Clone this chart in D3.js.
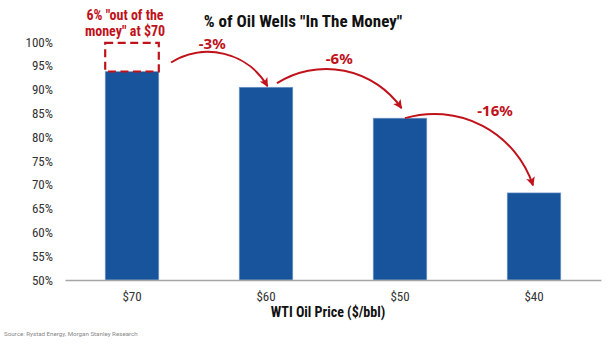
<!DOCTYPE html>
<html>
<head>
<meta charset="utf-8">
<script src="https://cdn.jsdelivr.net/npm/d3@7"></script>
<style>
  html, body { margin: 0; padding: 0; background: #ffffff; }
  svg { display: block; }
  text { font-family: "Roboto Condensed", "Liberation Sans Narrow", "Arial Narrow", Roboto, sans-serif; }
</style>
</head>
<body>
<svg id="chart" width="610" height="346"></svg>
<script>
// ---- data ----
const categories = ["$70", "$60", "$50", "$40"];
const inTheMoney = [93.8, 90.5, 84.0, 68.3];
const outOfMoney = 6;                       // % out of the money at $70
const changeLabels = ["-3%", "-6%", "-16%"];
const yTicks = [50, 55, 60, 65, 70, 75, 80, 85, 90, 95, 100];
const titleText = '% of Oil Wells "In The Money"';
const xTitleText = "WTI Oil Price ($/bbl)";
const noteLines = ['6% "out of the', 'money" at $70'];
const sourceText = "Source: Rystad Energy, Morgan Stanley Research";

// ---- layout / style ----
const RED = "#c0121a";
const BLUE = "#18549b";
const COND = '"Roboto Condensed", "Liberation Sans Narrow", "Arial Narrow", Roboto, sans-serif';
const svg = d3.select("#chart");

const x = d3.scaleBand().domain(categories).range([65, 601]).paddingInner(0.6).paddingOuter(0.3);
const y = d3.scaleLinear().domain([50, 100]).range([280, 42]);

// title
svg.append("text").attr("x", 303).attr("y", 27).attr("text-anchor", "middle")
  .attr("font-size", 17).attr("font-weight", "bold").attr("fill", "#111").text(titleText);

// y axis labels
const yAxis = d3.axisLeft(y).tickValues(yTicks).tickFormat(d => d + "%").tickSize(0).tickPadding(0);
const gy = svg.append("g").attr("transform", "translate(53,0)").call(yAxis);
gy.select(".domain").remove();
gy.selectAll("text").attr("font-size", 13).attr("fill", "#333").style("font-family", COND);

// bars
svg.append("g").selectAll("rect").data(inTheMoney).join("rect")
  .attr("x", (d, i) => x(categories[i]))
  .attr("y", d => y(d))
  .attr("width", x.bandwidth())
  .attr("height", d => y(50) - y(d))
  .attr("fill", BLUE)
  .attr("stroke", "#7fa3d2").attr("stroke-width", 0.6);

// x axis
const xAxis = d3.axisBottom(x).tickSize(0).tickPadding(12);
const gx = svg.append("g").attr("transform", "translate(0,280)").call(xAxis);
gx.select(".domain").attr("stroke", "#a6a6a6").attr("stroke-width", 1.5);
gx.selectAll("text").attr("font-size", 13).attr("fill", "#333").style("font-family", COND);

svg.append("text").attr("x", 328).attr("y", 317).attr("text-anchor", "middle")
  .attr("font-size", 14).attr("font-weight", "bold").attr("fill", "#111").text(xTitleText);

svg.append("text").attr("x", 4).attr("y", 336).attr("font-size", 6.2).attr("fill", "#888")
  .style("font-family", "Roboto, sans-serif").text(sourceText);

// dashed "out of the money" box
svg.append("rect")
  .attr("x", x(categories[0])).attr("y", y(inTheMoney[0] + outOfMoney))
  .attr("width", x.bandwidth()).attr("height", y(inTheMoney[0]) - y(inTheMoney[0] + outOfMoney))
  .attr("fill", "none").attr("stroke", RED).attr("stroke-width", 2.2).attr("stroke-dasharray", "8,4.5");

const note = svg.append("text").attr("x", 125).attr("text-anchor", "middle")
  .attr("font-size", 14).attr("font-weight", "bold").attr("fill", RED);
noteLines.forEach((t, i) => note.append("tspan").attr("x", 125).attr("y", 20 + i * 16).text(t));

// arrows
const defs = svg.append("defs");
defs.append("marker").attr("id", "ah").attr("viewBox", "0 0 10 10")
  .attr("refX", 9).attr("refY", 5).attr("markerWidth", 10).attr("markerHeight", 9)
  .attr("markerUnits", "userSpaceOnUse").attr("orient", "auto")
  .append("path").attr("d", "M0,0 L10,5 L0,10 L2.5,5 z").attr("fill", RED);

const arrowGeom = [
  { sdx: 39, sdy: -9, edx: 1.5, edy: -1, r: 69, ldx: -7, ldy: 49 },
  { sdx: 11, sdy: -4, edx: 1.5, edy: -10, r: 92, ldx: 0, ldy: 64 },
  { sdx: 5, sdy: 0, edx: -1, edy: -7.5, r: 104, ldx: 26, ldy: 116 }
];
changeLabels.forEach((lab, i) => {
  const g = arrowGeom[i];
  const cx0 = x(categories[i]) + x.bandwidth() / 2;
  const cx1 = x(categories[i + 1]) + x.bandwidth() / 2;
  const sx = cx0 + g.sdx, sy = y(inTheMoney[i]) + g.sdy;
  const ex = cx1 + g.edx, ey = y(inTheMoney[i + 1]) + g.edy;
  svg.append("path")
    .attr("d", `M${sx},${sy} A${g.r},${g.r} 0 0 1 ${ex},${ey}`)
    .attr("fill", "none").attr("stroke", RED).attr("stroke-width", 2)
    .attr("marker-end", "url(#ah)");
  svg.append("text").attr("x", (sx + ex) / 2 + g.ldx).attr("y", g.ldy)
    .attr("text-anchor", "middle").attr("font-size", 15).attr("font-weight", 700)
    .style("font-family", "'Noto Sans', 'Open Sans', sans-serif")
    .attr("fill", RED).text(lab);
});
</script>
</body>
</html>
